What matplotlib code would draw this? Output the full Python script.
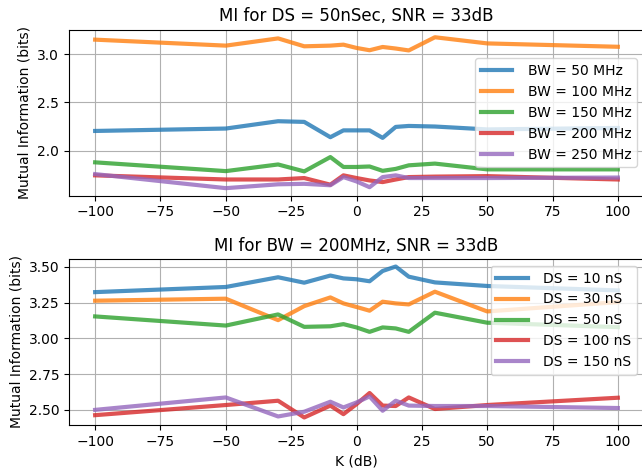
import matplotlib
matplotlib.use("Agg")
import matplotlib.pyplot as plt

k_db = [-100, -50, -30, -20, -10, -5, 0, 5, 10, 15, 20, 30, 50, 100]

# Top: MI for DS = 50nSec, varying bandwidth
bw_labels = ["BW = 50 MHz", "BW = 100 MHz", "BW = 150 MHz", "BW = 200 MHz", "BW = 250 MHz"]
bw_50 = [2.204, 2.229, 2.305, 2.298, 2.139, 2.21, 2.21, 2.21, 2.132, 2.246, 2.256, 2.25, 2.22, 2.235]
bw_100 = [3.152, 3.09, 3.165, 3.083, 3.09, 3.10, 3.066, 3.042, 3.076, 3.06, 3.04, 3.177, 3.113, 3.078]
bw_150 = [1.878, 1.787, 1.856, 1.784, 1.933, 1.83, 1.83, 1.835, 1.79, 1.81, 1.847, 1.865, 1.805, 1.805]
bw_200 = [1.743, 1.70, 1.70, 1.715, 1.646, 1.743, 1.715, 1.69, 1.673, 1.70, 1.725, 1.73, 1.735, 1.70]
bw_250 = [1.756, 1.61, 1.65, 1.655, 1.64, 1.725, 1.68, 1.62, 1.725, 1.743, 1.715, 1.715, 1.715, 1.72]

# Bottom: MI for BW = 200MHz, varying delay spread
ds_labels = ["DS = 10 nS", "DS = 30 nS", "DS = 50 nS", "DS = 100 nS", "DS = 150 nS"]
ds_10 = [3.324, 3.36, 3.428, 3.39, 3.44, 3.42, 3.414, 3.40, 3.472, 3.503, 3.432, 3.392, 3.367, 3.336]
ds_30 = [3.264, 3.278, 3.128, 3.226, 3.287, 3.245, 3.22, 3.194, 3.257, 3.245, 3.238, 3.327, 3.189, 3.254]
ds_50 = [3.154, 3.09, 3.168, 3.081, 3.085, 3.10, 3.077, 3.046, 3.077, 3.07, 3.046, 3.18, 3.11, 3.079]
ds_100 = [2.463, 2.534, 2.564, 2.447, 2.53, 2.47, 2.54, 2.618, 2.53, 2.527, 2.587, 2.506, 2.534, 2.585]
ds_150 = [2.50, 2.587, 2.454, 2.487, 2.557, 2.517, 2.552, 2.594, 2.494, 2.564, 2.53, 2.527, 2.527, 2.513]

colors = ["#1f77b4", "#ff7f0e", "#2ca02c", "#d62728", "#9467bd"]

fig = plt.figure(figsize=(6.42, 4.73), dpi=100)
W, H = 642, 473
ax1 = fig.add_axes([69 / W, 1 - 195.7 / H, (644 - 69) / W, 166 / H])
ax2 = fig.add_axes([69 / W, 1 - 425 / H, (644 - 69) / W, 166 / H])

for ys, lab, c in zip([bw_50, bw_100, bw_150, bw_200, bw_250], bw_labels, colors):
    ax1.plot(k_db, ys, color=c, lw=3, alpha=0.8, label=lab)
ax1.set_title("MI for DS = 50nSec, SNR = 33dB")
ax1.set_ylabel("Mutual Information (bits)")
ax1.grid(True)
ax1.legend(loc="center right", handlelength=2.3, handletextpad=1.1)

for ys, lab, c in zip([ds_10, ds_30, ds_50, ds_100, ds_150], ds_labels, colors):
    ax2.plot(k_db, ys, color=c, lw=3, alpha=0.8, label=lab)
ax2.set_title("MI for BW = 200MHz, SNR = 33dB")
ax2.set_ylabel("Mutual Information (bits)")
ax2.set_xlabel("K (dB)")
ax2.grid(True)
ax2.legend(loc="upper right", handlelength=2.3, handletextpad=1.1)

fig.savefig("out.png", dpi=100)
